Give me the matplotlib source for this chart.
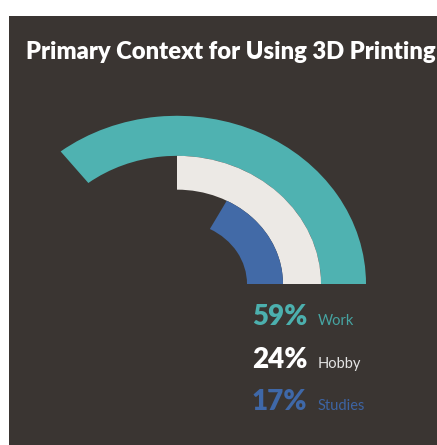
import matplotlib

matplotlib.use("Agg")
import matplotlib.pyplot as plt
from matplotlib.patches import Wedge


# Data read from the infographic.
CATEGORIES = ["Work", "Hobby", "Studies"]
SHARES = [59, 24, 17]
# Angular length (degrees) of each arc as it is drawn in the original.
ARC_SWEEP_DEG = [128, 90, 62]
TITLE = "Primary Context for Using 3D Printing"

# Figure size in pixels and the dark panel inside the white margin.
FIG_W, FIG_H = 437, 445
PANEL_LEFT, PANEL_TOP = 9, 16

BACKGROUND = "#3a3532"
ARC_COLORS = ["#4fb2b1", "#ece9e5", "#426aa7"]
SHARE_COLORS = ["#4cb0ae", "#ffffff", "#3f68a8"]
LABEL_COLORS = ["#46a4a2", "#e4e4e4", "#3d64a3"]

# Arc rings (inner, outer radius), outermost first, in data units.
RINGS = [(144, 189), (106, 144), (70, 106)]
# Vertical squash of the circles, as in the original picture.
Y_SQUASH = 0.89
CENTER_PX = (177, 284)


def px(x, y):
    """Converts pixel coordinates to figure fractions."""
    return x / FIG_W, 1 - y / FIG_H


def create_arcs(fig):
    """Draws the three arcs on an axes that covers the dark panel."""
    panel_w = FIG_W - PANEL_LEFT
    panel_h = FIG_H - PANEL_TOP
    ax = fig.add_axes([PANEL_LEFT / FIG_W, 0, panel_w / FIG_W, panel_h / FIG_H])
    ax.set_facecolor(BACKGROUND)
    ax.set_xticks([])
    ax.set_yticks([])
    for spine in ax.spines.values():
        spine.set_visible(False)

    cx, cy = CENTER_PX
    ax.set_xlim(PANEL_LEFT - cx, FIG_W - cx)
    ax.set_ylim((cy - FIG_H) / Y_SQUASH, (cy - PANEL_TOP) / Y_SQUASH)

    for sweep, (inner, outer), color in zip(ARC_SWEEP_DEG, RINGS, ARC_COLORS):
        ax.add_patch(
            Wedge((0, 0), outer, 0, sweep, width=outer - inner, facecolor=color,
                  edgecolor="none")
        )


def create_texts(fig):
    """Adds the title and the percentage legend."""
    fig.text(*px(26, 59), TITLE, color="white", fontsize=17.1, fontweight="heavy",
             family="Lato", va="baseline", ha="left")

    baselines = [325, 368, 410]
    for i, category in enumerate(CATEGORIES):
        fig.text(*px(252, baselines[i]), f"{SHARES[i]}%", color=SHARE_COLORS[i],
                 fontsize=20, fontweight="heavy", family="Lato", va="baseline")
        fig.text(*px(318, baselines[i]), category, color=LABEL_COLORS[i],
                 fontsize=10.5, family="Lato", va="baseline")


def main():
    fig = plt.figure(figsize=(FIG_W / 100, FIG_H / 100), dpi=100, facecolor="white")
    create_arcs(fig)
    create_texts(fig)
    fig.savefig("out.png", dpi=100, facecolor="white")


if __name__ == "__main__":
    main()
